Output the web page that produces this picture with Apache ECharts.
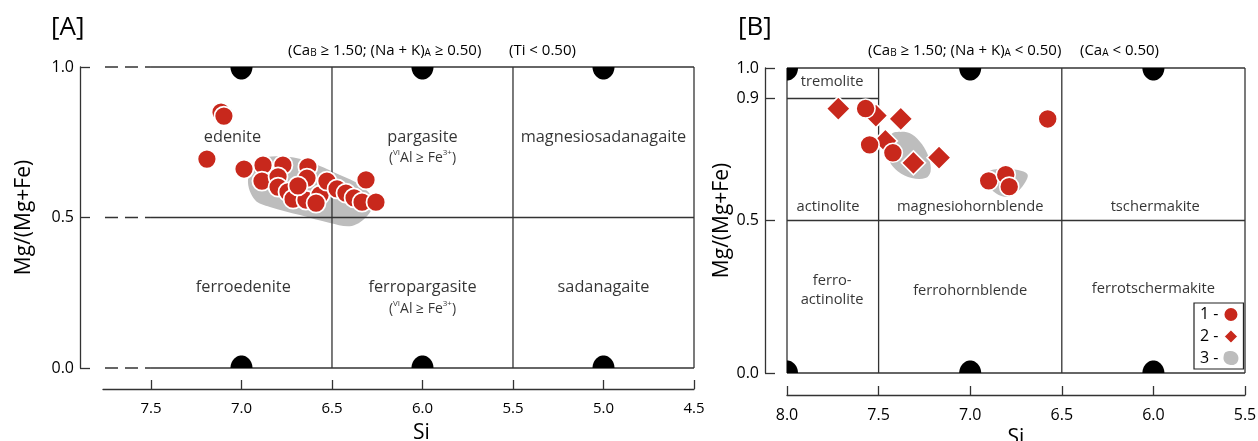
<!DOCTYPE html>
<html><head><meta charset="utf-8">
<script src="https://cdn.jsdelivr.net/npm/echarts@6/dist/echarts.min.js"></script>
<style>html,body{margin:0;padding:0;background:#fff}#c{width:1258px;height:441px}</style>
</head><body><div id="c"></div>
<script>
// ---------- Panel A data ----------
const aTicksX = [7.5, 7.0, 6.5, 6.0, 5.5, 5.0, 4.5];
const aTicksY = [0.0, 0.5, 1.0];
const a1Si = [7.113, 7.097, 7.191, 6.986, 6.881, 6.771, 6.633, 6.887, 6.798, 6.798, 6.743, 6.715, 6.638, 6.644, 6.566, 6.528, 6.472, 6.423, 6.312, 6.378, 6.334, 6.257, 6.588, 6.688];
const a1Mg = [0.850, 0.837, 0.694, 0.661, 0.674, 0.674, 0.668, 0.621, 0.635, 0.601, 0.585, 0.561, 0.631, 0.558, 0.575, 0.621, 0.595, 0.581, 0.625, 0.565, 0.551, 0.551, 0.548, 0.605];
const a3Si = [6.909, 6.732, 6.577, 6.456, 6.345, 6.273, 6.301, 6.390, 6.511, 6.677, 6.843, 6.925, 6.964];
const a3Mg = [0.691, 0.701, 0.674, 0.641, 0.608, 0.558, 0.508, 0.472, 0.482, 0.508, 0.535, 0.558, 0.625];
const aRegionNames = ['edenite', 'pargasite', 'magnesiosadanagaite', 'ferroedenite', 'ferropargasite', 'sadanagaite'];
const aRegionSi = [7.05, 6.0, 5.0, 6.99, 6.0, 5.0];
const aRegionMg = [0.767, 0.767, 0.767, 0.269, 0.269, 0.269];
const aNoteText = ['({sup|VI}Al ≥ Fe{sup|3+})', '({sup|VI}Al ≥ Fe{sup|3+})'];
const aNoteSi = [6.0, 6.0];
const aNoteMg = [0.698, 0.196];
const aEndTop = [7.0, 6.0, 5.0];
const aEndBottom = [7.0, 6.0, 5.0];
// boundary segments [x1, y1, x2, y2]
const aBounds = [[7.5,1,4.5,1],[7.5,0,4.5,0],[7.5,0.5,4.5,0.5],[4.5,0,4.5,1],[6.5,0,6.5,1],[5.5,0,5.5,1]];
const aGuides = [[7.754,1,7.5,1],[7.754,0.5,7.5,0.5],[7.754,0,7.5,0]];
const aHeader1 = '(Ca{s|B} ≥ 1.50; (Na + K){s|A} ≥ 0.50)';
const aHeader2 = '(Ti < 0.50)';

// ---------- Panel B data ----------
const bTicksX = [8.0, 7.5, 7.0, 6.5, 6.0, 5.5];
const bTicksY = [0.0, 0.5, 0.9, 1.0];
const b1Si = [7.571, 7.549, 7.422, 6.577, 6.899, 6.806, 6.787];
const b1Mg = [0.867, 0.748, 0.722, 0.833, 0.630, 0.650, 0.611];
const b2Si = [7.463, 7.720, 7.515, 7.379, 7.310, 7.170];
const b2Mg = [0.761, 0.867, 0.844, 0.833, 0.689, 0.706];
const b3aSi = [7.431, 7.375, 7.319, 7.263, 7.226, 7.216, 7.244, 7.319, 7.394, 7.440, 7.446];
const b3aMg = [0.783, 0.791, 0.783, 0.750, 0.706, 0.661, 0.639, 0.639, 0.661, 0.694, 0.739];
const b3bSi = [6.871, 6.759, 6.688, 6.703, 6.759, 6.815, 6.871, 6.909, 6.918];
const b3bMg = [0.667, 0.667, 0.652, 0.622, 0.586, 0.578, 0.594, 0.622, 0.650];
const bRegionNames = ['tremolite', 'actinolite', 'magnesiohornblende', 'tschermakite', 'ferro-\nactinolite', 'ferrohornblende', 'ferrotschermakite'];
const bRegionSi = [7.754, 7.776, 7.0, 5.99, 7.754, 7.0, 6.0];
const bRegionMg = [0.954, 0.544, 0.544, 0.544, 0.272, 0.269, 0.275];
const bEndTop = [8.0, 7.0, 6.0];
const bEndBottom = [8.0, 7.0, 6.0];
const bBounds = [[8,1,5.5,1],[8,0,5.5,0],[8,0,8,1],[5.5,0,5.5,1],[7.5,0,7.5,1],[6.5,0,6.5,1],[8,0.5,5.5,0.5],[8,0.9,7.5,0.9]];
const bHeader1 = '(Ca{s|B} ≥ 1.50; (Na + K){s|A} < 0.50)';
const bHeader2 = '(Ca{s|A} < 0.50)';

const seriesNames = ['1', '2', '3'];

// ---------- styles ----------
const FONT = '"Open Sans", "Noto Sans", sans-serif';
const RED = '#c8281c';
const GRAY = '#bdbdbd';
const LINE = '#333';
const TXT = '#000';

const zip = (xs, ys) => xs.map((x, i) => [x, ys[i]]);

function segSeries(segs, gi, dashed) {
  return segs.map(s => ({
    type: 'line', xAxisIndex: gi, yAxisIndex: gi, data: [[s[0], s[1]], [s[2], s[3]]],
    symbol: 'none', silent: true, clip: false, z: 2, animation: false,
    lineStyle: { color: LINE, width: 1.3, type: dashed ? [13, 7] : 'solid' }
  }));
}
function fieldSeries(xs, ys, gi) {
  return {
    type: 'custom', name: seriesNames[2], xAxisIndex: gi, yAxisIndex: gi, clip: true, z: 1, silent: true,
    itemStyle: { color: GRAY }, data: [[xs[0], ys[0]]],
    renderItem: (params, api) => ({
      type: 'polygon',
      shape: { points: xs.map((x, i) => api.coord([x, ys[i]])), smooth: 0.35 },
      style: { fill: GRAY }
    })
  };
}
// end-member marker: black half-ellipse on the inner side of the frame, kept inside the plot area
function bumpSeries(xs, yv, down, gi) {
  return {
    type: 'custom', xAxisIndex: gi, yAxisIndex: gi, clip: true, z: 3, silent: true,
    data: xs.map(x => [x, yv]),
    renderItem: (params, api) => {
      const cs = params.coordSys;
      const p = api.coord([api.value(0), api.value(1)]);
      const rx = 11, ry = 12.5, dir = down ? 1 : -1, pts = [];
      for (let k = 0; k <= 30; k++) {
        const t = Math.PI * k / 30;
        const px = Math.min(Math.max(p[0] - rx * Math.cos(t), cs.x), cs.x + cs.width);
        pts.push([px, p[1] + dir * ry * Math.sin(t)]);
      }
      return { type: 'polygon', shape: { points: pts }, style: { fill: '#000', stroke: null, lineWidth: 0 } };
    }
  };
}
function labelSeries(xs, ys, texts, gi, size) {
  return {
    type: 'scatter', xAxisIndex: gi, yAxisIndex: gi, silent: true, z: 5,
    symbolSize: 1, itemStyle: { color: 'rgba(0,0,0,0)' },
    data: xs.map((x, i) => [x, ys[i], texts[i]]),
    label: {
      show: true, position: 'inside', color: TXT, fontFamily: FONT, fontSize: size, lineHeight: size + 4,
      formatter: p => p.data[2],
      rich: { sup: { fontSize: Math.round(size * 0.6), verticalAlign: 'top', color: TXT, fontFamily: FONT } }
    }
  };
}
function yAxisCfg(gi, min, max, ticks, offset, nameGap, fs) {
  return {
    gridIndex: gi, type: 'value', min, max, offset,
    axisLine: { show: true, onZero: false, lineStyle: { color: LINE, width: 1.3 } },
    axisTick: { show: true, inside: true, length: 10, customValues: ticks, lineStyle: { color: LINE, width: 1.3 } },
    axisLabel: { customValues: ticks, formatter: v => v.toFixed(1), fontSize: fs, color: TXT, fontFamily: FONT, margin: 6 },
    splitLine: { show: false },
    name: 'Mg/(Mg+Fe)', nameLocation: 'middle', nameGap,
    nameTextStyle: { fontSize: 21, color: TXT, fontFamily: FONT }
  };
}
function xAxisCfg(gi, min, max, ticks, offset, fs, nameGap, namePad) {
  return {
    gridIndex: gi, type: 'value', min, max, inverse: true, offset,
    axisLine: { show: true, onZero: false, lineStyle: { color: LINE, width: 1.3 } },
    axisTick: { show: true, inside: true, length: 9, customValues: ticks, lineStyle: { color: LINE, width: 1.3 } },
    axisLabel: { customValues: ticks, formatter: v => v.toFixed(1), fontSize: fs, color: TXT, fontFamily: FONT, margin: 12 },
    splitLine: { show: false },
    name: 'Si', nameLocation: 'middle', nameGap,
    nameTextStyle: { fontSize: 21, color: TXT, fontFamily: FONT, padding: namePad }
  };
}
const headStyle = { fontSize: 15, fontWeight: 'normal', color: TXT, fontFamily: FONT,
  rich: { s: { fontSize: 10, verticalAlign: 'bottom', color: TXT, fontFamily: FONT } } };

const option = {
  animation: false,
  backgroundColor: '#fff',
  title: [
    { text: '[A]', left: 46, top: 10, textStyle: { fontSize: 26, fontWeight: 'normal', color: TXT, fontFamily: FONT } },
    { text: '[B]', left: 733, top: 10, textStyle: { fontSize: 26, fontWeight: 'normal', color: TXT, fontFamily: FONT } },
    { text: aHeader1, left: 288, top: 43, padding: 0, textStyle: headStyle },
    { text: aHeader2, left: 509, top: 43, padding: 0, textStyle: headStyle },
    { text: bHeader1, left: 868, top: 43, padding: 0, textStyle: headStyle },
    { text: bHeader2, left: 1080, top: 43, padding: 0, textStyle: headStyle }
  ],
  legend: {
    data: [
      { name: seriesNames[0], icon: 'circle' },
      { name: seriesNames[1], icon: 'diamond' },
      { name: seriesNames[2], icon: 'path://M3,2 C8,-1 16,0 18,6 C20,12 16,18 9,17 C3,16 0,12 1,7 C1.5,4 2,3 3,2 Z' }
    ],
    orient: 'vertical', left: 1194, top: 303, align: 'right', selectedMode: false,
    itemWidth: 15, itemHeight: 15, itemGap: 5,
    formatter: n => n + ' -',
    borderColor: '#222', borderWidth: 1.2, padding: [3, 4, 3, 6],
    textStyle: { fontSize: 16, color: TXT, fontFamily: FONT }
  },
  grid: [
    { left: 103, right: 564, top: 67, bottom: 73, outerBoundsMode: 'none', containLabel: false },
    { left: 787, right: 13, top: 68, bottom: 68, outerBoundsMode: 'none', containLabel: false }
  ],
  xAxis: [
    xAxisCfg(0, 4.5, 7.765, aTicksX, 21, 15, 34, [0, 0, 0, 46]),
    xAxisCfg(1, 5.5, 8.0, bTicksX, 22, 16, 31, 0)
  ],
  yAxis: [
    yAxisCfg(0, 0, 1, aTicksY, 23, 45, 16),
    yAxisCfg(1, 0, 1, bTicksY, 22, 25, 16)
  ],
  series: [
    fieldSeries(a3Si, a3Mg, 0),
    fieldSeries(b3aSi, b3aMg, 1),
    fieldSeries(b3bSi, b3bMg, 1),
    ...segSeries(aBounds, 0, false),
    ...segSeries(aGuides, 0, true),
    ...segSeries(bBounds, 1, false),
    bumpSeries(aEndTop, 1, true, 0),
    bumpSeries(aEndBottom, 0, false, 0),
    bumpSeries(bEndTop, 1, true, 1),
    bumpSeries(bEndBottom, 0, false, 1),
    labelSeries(aRegionSi, aRegionMg, aRegionNames, 0, 16.3),
    labelSeries(aNoteSi, aNoteMg, aNoteText, 0, 14),
    labelSeries(bRegionSi, bRegionMg, bRegionNames, 1, 14.7),
    {
      type: 'scatter', name: seriesNames[1], xAxisIndex: 1, yAxisIndex: 1, z: 6,
      symbol: 'diamond', symbolSize: 24, data: zip(b2Si, b2Mg),
      itemStyle: { color: RED, borderColor: '#fff', borderWidth: 1.6, opacity: 1 }
    },
    {
      type: 'scatter', name: seriesNames[0], xAxisIndex: 0, yAxisIndex: 0, z: 7,
      symbol: 'circle', symbolSize: 19, data: zip(a1Si, a1Mg),
      itemStyle: { color: RED, borderColor: '#fff', borderWidth: 1.8, opacity: 1 }
    },
    {
      type: 'scatter', name: seriesNames[0], xAxisIndex: 1, yAxisIndex: 1, z: 7,
      symbol: 'circle', symbolSize: 19, data: zip(b1Si, b1Mg),
      itemStyle: { color: RED, borderColor: '#fff', borderWidth: 1.6, opacity: 1 }
    }
  ]
};
echarts.init(document.getElementById('c')).setOption(option);
</script></body></html>
